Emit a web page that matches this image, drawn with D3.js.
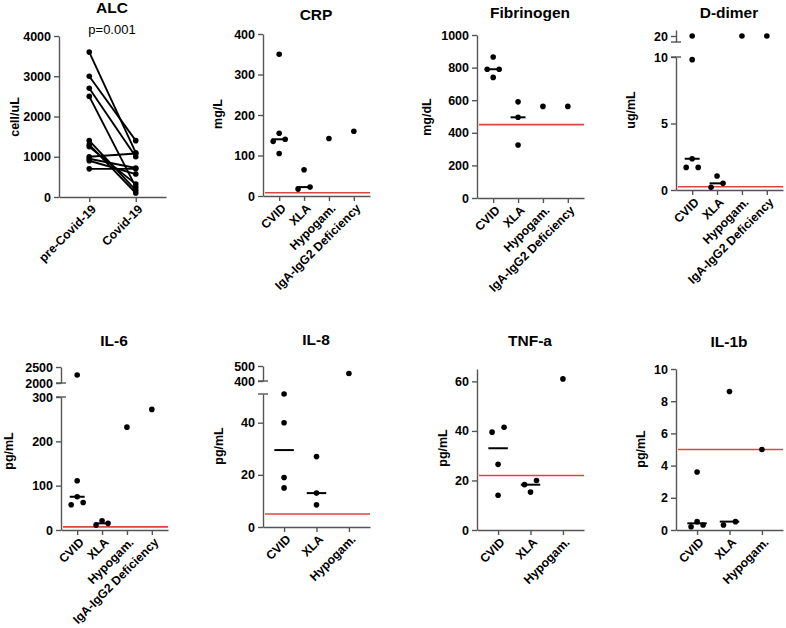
<!DOCTYPE html>
<html><head><meta charset="utf-8">
<script src="https://cdn.jsdelivr.net/npm/d3@7"></script>
<style>body{margin:0;background:#fff}</style>
</head><body><svg id="c" width="786" height="628"></svg>
<script>
// ---------------- DATA ----------------
const alcCategories = ["pre-Covid-19", "Covid-19"];
const alcPre  = [3600, 3000, 2700, 2500, 1400, 1300, 1250, 1000, 950, 900, 700];
const alcPost = [1100, 1400, 1000, 250, 170, 100, 320, 1080, 720, 570, 700];
const alcTicks = [0, 1000, 2000, 3000, 4000];
const alcPValue = "p=0.001";

const groups4 = ["CVID", "XLA", "Hypogam.", "IgA-IgG2 Deficiency"];
const groups3 = ["CVID", "XLA", "Hypogam."];

const crpValues = [[350, 155, 140, 135, 105], [65, 22, 17], [142], [160]];
const crpTicks = [0, 100, 200, 300, 400];
const crpRef = 8;

const fibValues = [[865, 790, 790, 740], [590, 495, 325], [562], [562]];
const fibTicks = [0, 200, 400, 600, 800, 1000];
const fibRef = 450;

const ddValues = [[20, 9.8, 2.35, 1.7, 1.7], [1.05, 0.5, 0.2], [20], [20]];
const ddTicksLow = [0, 5, 10];
const ddTicksHigh = [20];
const ddRef = 0.25;

const il6Values = [[2250, 111, 75, 62, 57], [21, 15, 11], [232], [272]];
const il6TicksLow = [0, 100, 200, 300];
const il6TicksHigh = [2000, 2500];
const il6Ref = 7;

const il8Values = [[51, 40, 19, 15], [27, 13, 8.5], [450]];
const il8TicksLow = [0, 20, 40];
const il8TicksHigh = [400, 500];
const il8Ref = 5;

const tnfValues = [[41.5, 39.5, 26.5, 14], [20, 18.3, 15.3], [61]];
const tnfTicks = [0, 20, 40, 60];
const tnfRef = 22;

const il1bValues = [[3.6, 0.52, 0.31, 0.2], [8.6, 0.52, 0.31], [5.0]];
const il1bTicks = [0, 2, 4, 6, 8, 10];
const il1bRef = 5;

// ---------------- DRAWING ----------------
const FONT = "'Liberation Sans', Arial, Helvetica, sans-serif";
const AXIS = "#555";
const RED = "#d9483f";
const R = 2.8;
const fmt = d3.format("d");
const svg = d3.select("#c").style("font-family", FONT);

function styleAxis(g) {
  g.selectAll("path.domain").attr("stroke", AXIS).attr("stroke-width", 1.4);
  g.selectAll(".tick line").attr("stroke", AXIS).attr("stroke-width", 1.4);
  g.selectAll(".tick text").attr("fill", "#000").attr("font-size", 12.5)
    .attr("font-weight", "bold").attr("font-family", FONT);
}

function xAxis(g, x, y0) {
  const a = g.append("g").attr("transform", `translate(0,${y0})`)
    .call(d3.axisBottom(x).tickSize(5).tickSizeOuter(0));
  styleAxis(a);
  a.selectAll(".tick text")
    .attr("font-size", 12.2)
    .attr("text-anchor", "end")
    .attr("transform", "translate(4,10) rotate(-45)")
    .attr("x", 0).attr("y", 0).attr("dy", "0.35em");
}

function titleAndLabel(g, L, title, unit) {
  g.append("text").attr("x", L.x0 + 53).attr("y", L.titleY).attr("text-anchor", "middle")
    .attr("font-size", 15.5).attr("font-weight", "bold").text(title);
  g.append("text").attr("transform", `translate(${L.lx},${L.ly}) rotate(-90)`)
    .attr("text-anchor", "middle").attr("dy", "0.35em")
    .attr("font-size", 12.5).attr("font-weight", "bold").text(unit);
}

// jitter: cluster near-equal points (pixel space) and spread them sideways
function jitter(vals, ypix) {
  const idx = vals.map((v, i) => i).sort((a, b) => vals[b] - vals[a]);
  const off = new Array(vals.length).fill(0);
  const clusters = [];
  let cur = [];
  idx.forEach((i, k) => {
    if (k > 0 && Math.abs(ypix(vals[i]) - ypix(vals[idx[k - 1]])) < 6.2) cur.push(i);
    else { if (cur.length) clusters.push(cur); cur = [i]; }
  });
  if (cur.length) clusters.push(cur);
  const s = 6;
  clusters.forEach(c => {
    if (c.length === 2) { off[c[0]] = s; off[c[1]] = -s; }
    else if (c.length === 3) { off[c[0]] = 0; off[c[1]] = s; off[c[2]] = -s; }
    else if (c.length > 3) c.forEach((i, j) => off[i] = (j - (c.length - 1) / 2) * s);
  });
  return off;
}

function scatterPanel(L, title, unit, cats, values, ticks, ref, broken) {
  const g = svg.append("g");
  const x = d3.scalePoint().domain(cats).range([L.x0, L.x0 + 107]).padding(0.65);
  const yLow = d3.scaleLinear().domain(L.lowDomain).range([L.y0, L.yTop]);
  let yHigh = null;
  const ypix = v => (broken && v > L.lowDomain[1]) ? yHigh(v) : yLow(v);

  const ax = g.append("g").attr("transform", `translate(${L.x0},0)`)
    .call(d3.axisLeft(yLow).tickValues(ticks).tickFormat(fmt).tickSize(5).tickSizeOuter(0));
  styleAxis(ax);
  if (broken) {
    yHigh = d3.scaleLinear().domain(broken.domain).range(broken.range);
    const ax2 = g.append("g").attr("transform", `translate(${L.x0},0)`)
      .call(d3.axisLeft(yHigh).tickValues(broken.ticks).tickFormat(fmt).tickSize(5).tickSizeOuter(0));
    styleAxis(ax2);
    [yHigh.range()[0], yLow.range()[1]].forEach(yy => {
      g.append("line").attr("x1", L.x0 - 5).attr("x2", L.x0 + 5).attr("y1", yy).attr("y2", yy)
        .attr("stroke", AXIS).attr("stroke-width", 1.4);
    });
  }
  xAxis(g, x, L.y0);

  g.append("line").attr("x1", L.x0 + 2).attr("x2", L.x0 + 107)
    .attr("y1", yLow(ref)).attr("y2", yLow(ref))
    .attr("stroke", RED).attr("stroke-width", 1.6);

  const step = x.step();
  values.forEach((vals, gi) => {
    const cx = x(cats[gi]);
    if (vals.length > 1) {
      const m = d3.median(vals);
      g.append("line").attr("x1", cx - step * 0.3).attr("x2", cx + step * 0.3)
        .attr("y1", ypix(m)).attr("y2", ypix(m)).attr("stroke", "#000").attr("stroke-width", 2);
    }
    const off = jitter(vals, ypix);
    g.selectAll(null).data(vals).enter().append("circle")
      .attr("cx", (d, i) => cx + off[i]).attr("cy", d => ypix(d)).attr("r", R).attr("fill", "#000");
  });
  titleAndLabel(g, L, title, unit);
}

// ---- ALC (paired) ----
(function () {
  const L = { x0: 59, y0: 197, yTop: 36, titleY: 13, lx: 15, ly: 117 };
  const g = svg.append("g");
  const x = d3.scalePoint().domain(alcCategories).range([L.x0, L.x0 + 107]).padding(0.65);
  const y = d3.scaleLinear().domain([0, 4000]).range([L.y0, L.yTop]);
  const ax = g.append("g").attr("transform", `translate(${L.x0},0)`)
    .call(d3.axisLeft(y).tickValues(alcTicks).tickFormat(fmt).tickSize(5).tickSizeOuter(0));
  styleAxis(ax);
  xAxis(g, x, L.y0);
  alcPre.forEach((v, i) => {
    g.append("line").attr("x1", x(alcCategories[0])).attr("x2", x(alcCategories[1]))
      .attr("y1", y(v)).attr("y2", y(alcPost[i])).attr("stroke", "#000").attr("stroke-width", 1.9);
  });
  g.selectAll(null).data(alcPre).enter().append("circle")
    .attr("cx", x(alcCategories[0])).attr("cy", d => y(d)).attr("r", R).attr("fill", "#000");
  g.selectAll(null).data(alcPost).enter().append("circle")
    .attr("cx", x(alcCategories[1])).attr("cy", d => y(d)).attr("r", R).attr("fill", "#000");
  g.append("text").attr("x", L.x0 + 53).attr("y", 34).attr("text-anchor", "middle")
    .attr("font-size", 13).text(alcPValue);
  titleAndLabel(g, L, "ALC", "cell/uL");
})();

scatterPanel({ x0: 263, y0: 196, yTop: 34, lowDomain: [0, 400], titleY: 20, lx: 218, ly: 114 },
  "CRP", "mg/L", groups4, crpValues, crpTicks, crpRef, null);
scatterPanel({ x0: 477, y0: 198, yTop: 35, lowDomain: [0, 1000], titleY: 18, lx: 427, ly: 117 },
  "Fibrinogen", "mg/dL", groups4, fibValues, fibTicks, fibRef, null);
scatterPanel({ x0: 676, y0: 190, yTop: 57, lowDomain: [0, 10], titleY: 18, lx: 631, ly: 110 },
  "D-dimer", "ug/mL", groups4, ddValues, ddTicksLow, ddRef,
  { domain: [15, 25], range: [42, 30], ticks: ddTicksHigh });

scatterPanel({ x0: 61, y0: 530, yTop: 397, lowDomain: [0, 300], titleY: 346, lx: 9, ly: 451 },
  "IL-6", "pg/mL", groups4, il6Values, il6TicksLow, il6Ref,
  { domain: [2000, 2500], range: [383, 367], ticks: il6TicksHigh });
scatterPanel({ x0: 263, y0: 527, yTop: 394, lowDomain: [0, 51], titleY: 345, lx: 219, ly: 446 },
  "IL-8", "pg/mL", groups3, il8Values, il8TicksLow, il8Ref,
  { domain: [400, 500], range: [381, 366], ticks: il8TicksHigh });
scatterPanel({ x0: 477, y0: 530, yTop: 369, lowDomain: [0, 65], titleY: 346, lx: 443, ly: 448 },
  "TNF-a", "pg/mL", groups3, tnfValues, tnfTicks, tnfRef, null);
scatterPanel({ x0: 676, y0: 530, yTop: 369, lowDomain: [0, 10], titleY: 347, lx: 641, ly: 449 },
  "IL-1b", "pg/mL", groups3, il1bValues, il1bTicks, il1bRef, null);
</script>
</body></html>
